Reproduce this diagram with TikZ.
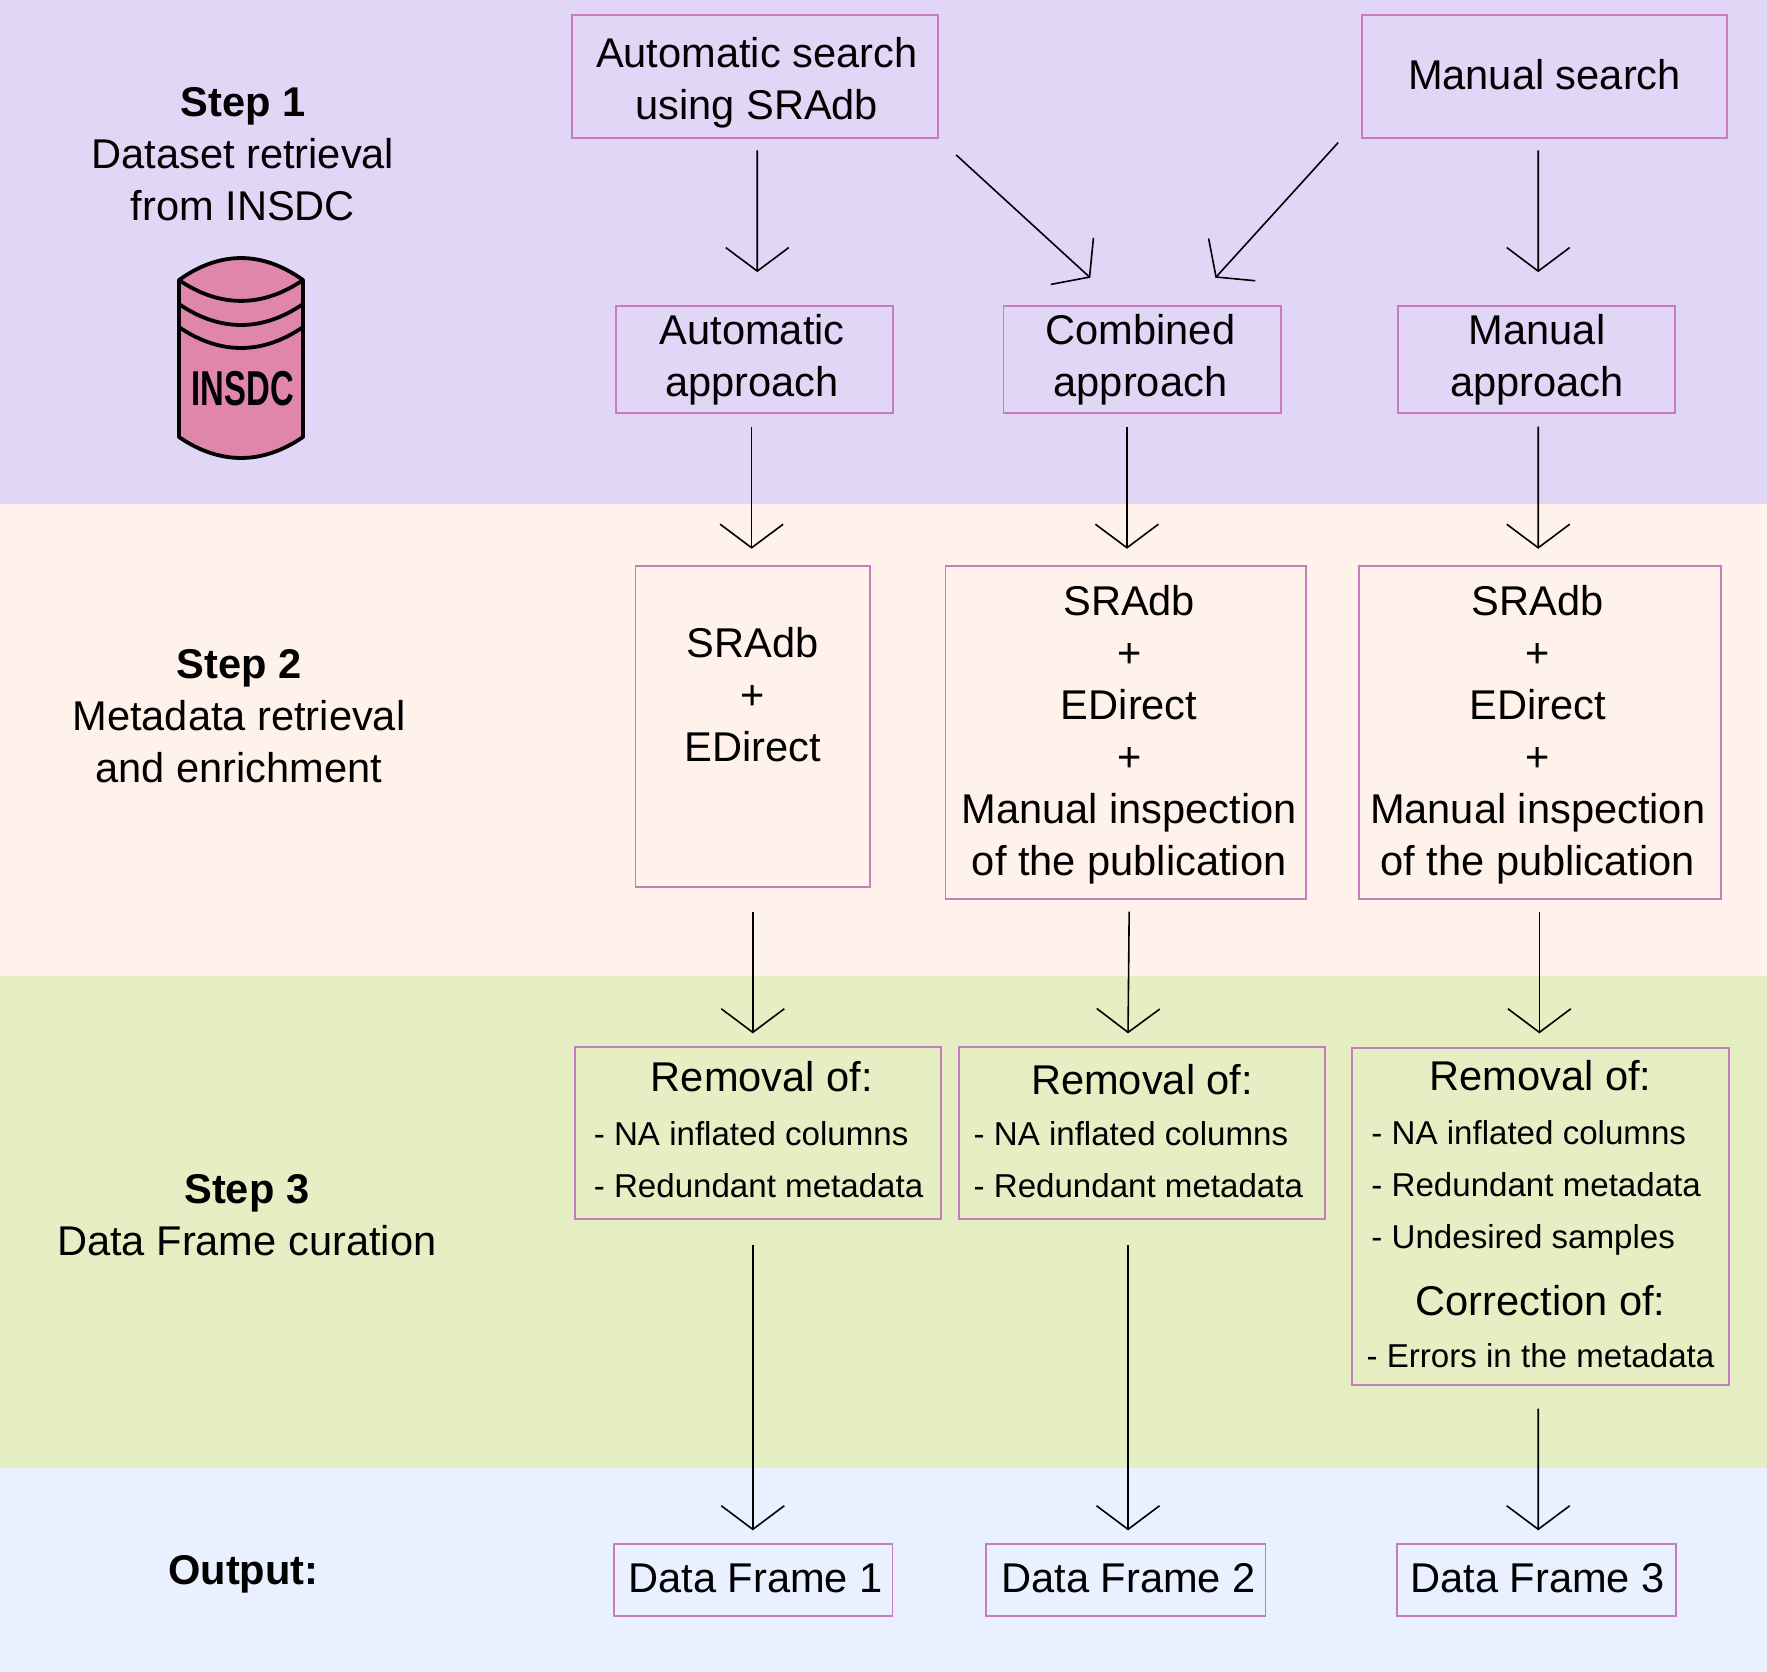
\documentclass[tikz,border=0pt]{standalone}
\usepackage{fontspec}
\setmainfont{Liberation Sans}
\usetikzlibrary{arrows.meta}
\definecolor{bandA}{HTML}{E1D6F6}
\definecolor{bandB}{HTML}{FFF2EA}
\definecolor{bandC}{HTML}{E6EFC3}
\definecolor{bandD}{HTML}{E9F0FF}
\definecolor{boxline}{HTML}{C77CBE}
\definecolor{cyl}{HTML}{DF86AA}
\newlength{\ux}\setlength{\ux}{0.56346pt}
\newcommand{\lgf}{\fontsize{20.8}{26}\selectfont}
\newcommand{\smf}{\fontsize{16.55}{26}\selectfont}
\newcommand{\lineL}[2]{\makebox[#1\ux][l]{\smf #2}}
\newcommand{\nx}[1]{\hspace*{#1\ux}}
\tikzset{
  x=0.56346pt,y=-0.56346pt,
  bx/.style 2 args={draw=boxline,line width=0.9pt,inner sep=0pt,outer sep=0pt,
    minimum width={#1*0.56346pt},minimum height={#2*0.56346pt},
    align=center,font=\lgf},
  lbl/.style={inner sep=0pt,align=center,font=\lgf},
  arr/.style={draw=black,line width=0.8pt,-{Straight Barb[length=11.8pt,width=31.5pt,line width=0.8pt]}},
  cylst/.style={draw=black,line width=1.9pt,line join=round},
}
\begin{document}
\begin{tikzpicture}
\useasboundingbox (0,0) rectangle (1568,1483.7);
\fill[bandA] (0,0) rectangle (1568,447);
\fill[bandB] (0,447) rectangle (1568,866);
\fill[bandC] (0,866) rectangle (1568,1303);
\fill[bandD] (0,1303) rectangle (1568,1483.7);

% left labels
\node[lbl] (s1) at (215.5,137) {\textbf{Step 1}\\Dataset retrieval\\from INSDC};
\node[lbl] (s2) at (212,635.5) {\textbf{Step 2}\\Metadata retrieval\\and enrichment};
\node[lbl] (s3) at (219,1078) {\textbf{Step 3}\\Data Frame curation};
\node[lbl] (s4) at (216,1397) {\textbf{Output:}};

% database cylinder
\fill[cyl] (158.8,248.5) .. controls (195,222.5) and (232.7,222.5) .. (268.9,248.5)
  -- (268.9,387.8) .. controls (232.7,412.6) and (195,412.6) .. (158.8,387.8) -- cycle;
\draw[cylst] (158.8,248.5) .. controls (195,222.5) and (232.7,222.5) .. (268.9,248.5)
  -- (268.9,387.8) .. controls (232.7,412.6) and (195,412.6) .. (158.8,387.8) -- cycle;
\draw[cylst] (158.8,248.5) .. controls (195,273.2) and (232.7,273.2) .. (268.9,248.5);
\draw[cylst] (158.8,269.8) .. controls (195,294.6) and (232.7,294.6) .. (268.9,269.8);
\draw[cylst] (158.8,290.2) .. controls (195,315) and (232.7,315) .. (268.9,290.2);
\node[inner sep=0pt,xscale=0.67,font=\fontsize{24.5}{26}\selectfont\bfseries] (db) at (215.5,345) {INSDC};

% row 1
\node[bx={325}{109}] (A1) at (670,68) {\mbox{}\\[-4.5pt]\nx{3}Automatic search\\\nx{3}using SRAdb};
\node[bx={324}{109}] (MS) at (1370.5,68) {Manual search\\[-24pt]\mbox{}};
% row 2
\node[bx={246}{95}] (Auto) at (669.5,319) {\nx{-4}Automatic\\\nx{-4}approach};
\node[bx={246}{95}] (Comb) at (1013.5,319) {\nx{-3}Combined\\\nx{-3}approach};
\node[bx={246}{95}] (Manu) at (1363.5,319) {\nx{1}Manual\\\nx{1}approach};
% row 3
\node[bx={208}{285}] (SA) at (668,644.5) {SRAdb\\+\\EDirect\\[6pt]\mbox{}};
\node[bx={320}{296}] (SB) at (999,650) {\mbox{}\\[-9pt]\nx{6}SRAdb\\\nx{6}+\\\nx{6}EDirect\\\nx{6}+\\\nx{6}Manual inspection\\\nx{6}of the publication};
\node[bx={321}{296}] (SC) at (1366.5,650) {\mbox{}\\[-9pt]\nx{-4}SRAdb\\\nx{-4}+\\\nx{-4}EDirect\\\nx{-4}+\\\nx{-4}Manual inspection\\\nx{-4}of the publication};
% row 4
\node[bx={325}{153}] (RA) at (672.5,1005.5) {\hspace*{4pt}Removal of:\\[1pt]\lineL{291}{- NA inflated columns}\\\lineL{291}{- Redundant metadata}\\[-22.6pt]\mbox{}};
\node[bx={325}{153}] (RB) at (1013.5,1005.5) {Removal of:\\[-0.7pt]\lineL{299}{- NA inflated columns}\\\lineL{299}{- Redundant metadata}\\[-23.75pt]\mbox{}};
\node[bx={334}{299}] (RC) at (1367,1079.5) {Removal of:\\[1pt]\lineL{300}{- NA inflated columns}\\\lineL{300}{- Redundant metadata}\\\lineL{300}{- Undesired samples}\\[7.6pt]Correction of:\\[0pt]{\smf - Errors in the metadata}\\[-23.2pt]\mbox{}};
% row 5
\node[bx={247}{64}] (DA) at (668.5,1402) {\nx{4}Data Frame 1\\[-24pt]\mbox{}};
\node[bx={248}{64}] (DB) at (999,1402) {\nx{5}Data Frame 2\\[-24pt]\mbox{}};
\node[bx={247}{64}] (DC) at (1363.5,1402) {\nx{2}Data Frame 3\\[-24pt]\mbox{}};

% connectors
\draw[arr] ([shift={(2,11)}]A1.south) -- ([shift={(2.5,-30)}]Auto.north);
\draw[arr] ([shift={(16,15)}]A1.south east) -- ([shift={(77,-25)}]Comb.north west);
\draw[arr] ([shift={(-21,4)}]MS.south west) -- ([shift={(-58,-25)}]Comb.north east);
\draw[arr] ([shift={(-5.5,11)}]MS.south) -- ([shift={(1.5,-30)}]Manu.north);
\draw[arr] ([shift={(-2.5,12)}]Auto.south) -- ([shift={(-1,-15)}]SA.north);
\draw[arr] ([shift={(-13.5,12)}]Comb.south) -- ([shift={(1,-15)}]SB.north);
\draw[arr] ([shift={(1.5,12)}]Manu.south) -- ([shift={(-1.5,-15)}]SC.north);
\draw[arr] ([shift={(0,22)}]SA.south) -- ([shift={(-4.5,-12)}]RA.north);
\draw[arr] ([shift={(3,11)}]SB.south) -- ([shift={(-12.5,-12)}]RB.north);
\draw[arr] ([shift={(-0.5,11)}]SC.south) -- ([shift={(-1,-13)}]RC.north);
\draw[arr] ([shift={(-4.5,23)}]RA.south) -- ([shift={(-0.5,-12)}]DA.north);
\draw[arr] ([shift={(-12.5,23)}]RB.south) -- ([shift={(2,-12)}]DB.north);
\draw[arr] ([shift={(-2,21)}]RC.south) -- ([shift={(1.5,-12)}]DC.north);
\end{tikzpicture}
\end{document}
